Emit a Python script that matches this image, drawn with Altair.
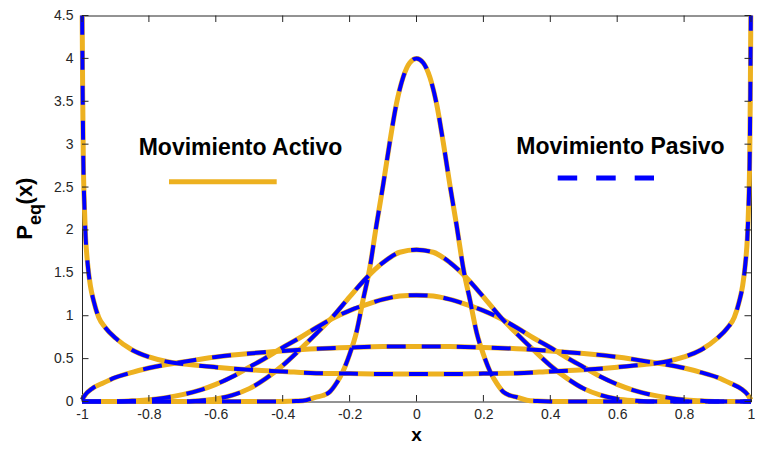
import altair as alt
import pandas as pd

# ---- readings from the reference (half curves, x >= 0; the curves are symmetric) ----
a_x = [0, 0.1, 0.2, 0.3, 0.4, 0.5, 0.6, 0.68, 0.74, 0.8, 0.85, 0.9, 0.93, 0.95, 0.965,
       0.975, 0.983, 0.989, 0.993, 0.996, 0.998, 0.9995]
a_y = [0.32, 0.32, 0.325, 0.33, 0.35, 0.37, 0.4, 0.43, 0.46, 0.52, 0.6, 0.74, 0.86, 0.98, 1.17,
       1.35, 1.6, 1.9, 2.3, 2.8, 3.6, 4.5]

b_x = [0, 0.1, 0.2, 0.3, 0.4, 0.5, 0.6, 0.7, 0.8, 0.85, 0.9, 0.94, 0.97, 0.99, 1.0]
b_y = [0.64, 0.64, 0.63, 0.615, 0.59, 0.56, 0.52, 0.46, 0.39, 0.34, 0.28, 0.21, 0.15, 0.08, 0.02]

c_x = [0, 0.05, 0.1, 0.15, 0.2, 0.25, 0.3, 0.35, 0.4, 0.45, 0.5, 0.55, 0.6, 0.65, 0.7, 0.75,
       0.8, 0.85, 0.9, 1.0]
c_y = [1.24, 1.23, 1.19, 1.13, 1.06, 0.97, 0.86, 0.74, 0.63, 0.51, 0.40, 0.29, 0.2, 0.13, 0.08,
       0.045, 0.02, 0.008, 0.0, 0.0]

d_x = [0, 0.05, 0.1, 0.15, 0.2, 0.25, 0.3, 0.35, 0.4, 0.45, 0.5, 0.55, 0.6, 0.65, 0.7, 0.85, 1.0]
d_y = [1.77, 1.74, 1.62, 1.44, 1.22, 0.99, 0.79, 0.6, 0.42, 0.27, 0.15, 0.075, 0.03, 0.01, 0.0,
       0.0, 0.0]

e_x = [0, 0.02, 0.04, 0.06, 0.08, 0.1, 0.12, 0.14, 0.16, 0.18, 0.2, 0.22, 0.24, 0.26, 0.28,
       0.3, 0.33, 0.36, 0.4, 0.6, 0.8, 1.0]
e_y = [4.0, 3.95, 3.78, 3.47, 3.02, 2.52, 2.05, 1.55, 1.18, 0.8, 0.55, 0.35, 0.21, 0.11, 0.07,
       0.05, 0.015, 0.005, 0.0, 0.0, 0.0, 0.0]

x_ticks = [-1, -0.8, -0.6, -0.4, -0.2, 0, 0.2, 0.4, 0.6, 0.8, 1]
y_ticks = [0, 0.5, 1, 1.5, 2, 2.5, 3, 3.5, 4, 4.5]

ORANGE = "#EDB120"
BLUE = "#0000FF"
AXC = "#262626"
FONT = "Liberation Sans"
W, H = 669, 386


def mirror(hx, hy):
    xs = [-v for v in reversed(hx[1:])] + list(hx)
    ys = list(reversed(hy[1:])) + list(hy)
    return xs, ys


rows = []
for name, hx, hy in [("A", a_x, a_y), ("B", b_x, b_y), ("C", c_x, c_y),
                     ("D", d_x, d_y), ("E", e_x, e_y)]:
    xs, ys = mirror(hx, hy)
    for xv, yv in zip(xs, ys):
        rows.append({"x": xv, "y": yv, "curve": name})
df = pd.DataFrame(rows)

xaxis = alt.Axis(values=x_ticks, labelExpr="'' + datum.value", ticks=False, tickSize=0,
                 domain=False, grid=False, title=None, labelFont=FONT, labelFontSize=14,
                 labelColor=AXC, labelPadding=6, labelFlush=False)
yaxis = alt.Axis(values=y_ticks, labelExpr="'' + datum.value", ticks=False, tickSize=0,
                 domain=False, grid=False, title=None, labelFont=FONT, labelFontSize=14,
                 labelColor=AXC, labelPadding=9, labelFlush=False)
xenc = alt.X("x:Q", scale=alt.Scale(domain=[-1, 1], nice=False, zero=False), axis=xaxis)
yenc = alt.Y("y:Q", scale=alt.Scale(domain=[0, 4.5], nice=False, zero=False), axis=yaxis)

active = alt.Chart(df).mark_line(color=ORANGE, strokeWidth=5, interpolate="monotone").encode(
    x=xenc, y=yenc, detail="curve:N")
passive = alt.Chart(df).mark_line(color=BLUE, strokeWidth=4, strokeDash=[19, 16],
                                  interpolate="monotone").encode(
    x=xenc, y=yenc, detail="curve:N")

# inward ticks (MATLAB style)
xt = pd.DataFrame({"x": x_ticks})
yt = pd.DataFrame({"y": y_ticks})
tk = dict(color=AXC, strokeWidth=1)
t_bottom = alt.Chart(xt).mark_rule(**tk).encode(x=xenc, y=alt.value(H), y2=alt.value(H - 6.5))
t_top = alt.Chart(xt).mark_rule(**tk).encode(x=xenc, y=alt.value(0), y2=alt.value(6.5))
t_left = alt.Chart(yt).mark_rule(**tk).encode(y=yenc, x=alt.value(0), x2=alt.value(6.5))
t_right = alt.Chart(yt).mark_rule(**tk).encode(y=yenc, x=alt.value(W), x2=alt.value(W - 6.5))


def label(txt, x, y, size, angle=0, align="center", baseline="middle"):
    kw = dict(font=FONT, fontSize=size, fontWeight="bold", color="black",
              align=align, baseline=baseline)
    if angle:
        kw["angle"] = angle
    return alt.Chart(pd.DataFrame({"t": [txt]})).mark_text(**kw).encode(
        x=alt.value(x), y=alt.value(y), text="t:N")


leg_a_text = label("Movimiento Activo", 158.5, 139.5, 23, baseline="alphabetic")
leg_p_text = label("Movimiento Pasivo", 538.5, 138.5, 23, baseline="alphabetic")
leg_a_line = alt.Chart(pd.DataFrame({"k": [0]})).mark_rule(color=ORANGE, strokeWidth=5).encode(
    x=alt.value(87), x2=alt.value(194.7), y=alt.value(166.2))
leg_p_line = alt.Chart(pd.DataFrame({"k": [0]})).mark_rule(
    color=BLUE, strokeWidth=5, strokeDash=[19.5, 19]).encode(
    x=alt.value(475.7), x2=alt.value(572), y=alt.value(162.5))

x_title = label("x", W / 2, 425, 19, baseline="alphabetic")
y_p = label("P", -50, 217, 22, angle=270, baseline="alphabetic")
y_eq = label("eq", -41, 199, 18, angle=270, baseline="alphabetic")
y_x = label("(x)", -50, 175.5, 22, angle=270, baseline="alphabetic")

chart = alt.layer(
    active, passive, t_bottom, t_top, t_left, t_right,
    leg_a_text, leg_p_text, leg_a_line, leg_p_line, x_title, y_p, y_eq, y_x
).properties(
    width=W, height=H,
    autosize=alt.AutoSizeParams(type="none"),
    padding={"left": 74, "top": 7.5, "right": 4, "bottom": 43.5},
).configure_view(stroke=AXC, strokeWidth=1)

chart.save("out.html", embed_options={"renderer": "svg", "actions": False})
